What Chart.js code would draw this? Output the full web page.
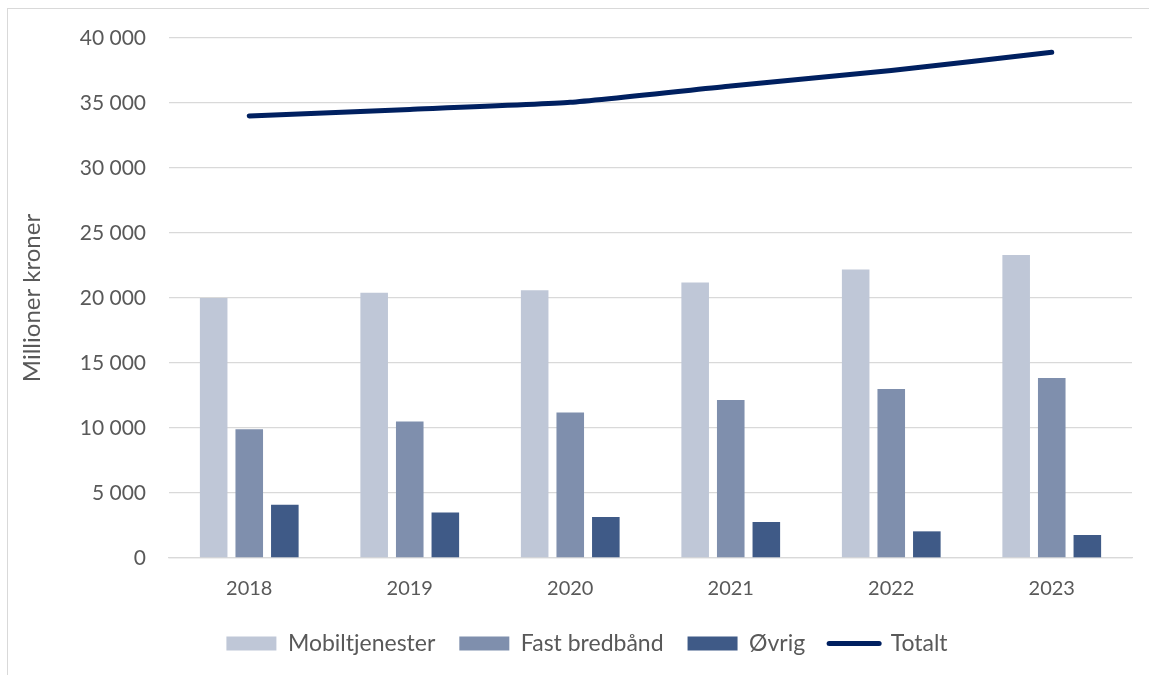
<!DOCTYPE html>
<html>
<head>
<meta charset="utf-8">
<script src="https://cdn.jsdelivr.net/npm/chart.js@4/dist/chart.umd.min.js"></script>
<style>
  html, body { margin: 0; padding: 0; background: #fff; overflow: hidden; }
  #wrap { position: relative; width: 1149px; height: 675px; }
  #frame { position: absolute; left: 7px; top: 8px; width: 1200px; height: 700px; border: 1px solid #d9d9d9; box-sizing: border-box; pointer-events: none; }
  canvas { position: absolute; left: 0; top: 0; }
</style>
</head>
<body>
<div id="wrap">
  <canvas id="chart" width="1149" height="675"></canvas>
  <div id="frame"></div>
</div>
<script>
// omsetning per år, millioner kroner
var years = ['2018', '2019', '2020', '2021', '2022', '2023'];
var mobil = [20000, 20400, 20600, 21200, 22200, 23300];
var bredband = [9900, 10500, 11200, 12150, 13000, 13850];
var ovrig = [4100, 3500, 3150, 2770, 2050, 1770];
var totalt = [34000, 34500, 35050, 36300, 37500, 38900];
var yTicks = [0, 5000, 10000, 15000, 20000, 25000, 30000, 35000, 40000];

var grey = '#595959';
var colors = { mobil: '#bfc7d7', bredband: '#7f8fad', ovrig: '#3f5a87', totalt: '#002060' };

function fmt(v) {
  return String(v).replace(/\B(?=(\d{3})+(?!\d))/g, ' ');
}

// legenden sentreres under plottet, ikke under hele lerretet
var legendShift = {
  id: 'legendShift',
  afterLayout: function (chart) {
    chart.legend.left += 42;
  }
};

Chart.defaults.font.family = 'Lato, "Open Sans", sans-serif';
Chart.defaults.color = grey;

new Chart(document.getElementById('chart'), {
  type: 'bar',
  data: {
    labels: years,
    datasets: [
      { label: 'Mobiltjenester', data: mobil, backgroundColor: colors.mobil, order: 2 },
      { label: 'Fast bredbånd', data: bredband, backgroundColor: colors.bredband, order: 2 },
      { label: 'Øvrig', data: ovrig, backgroundColor: colors.ovrig, order: 2 },
      {
        label: 'Totalt', type: 'line', data: totalt, order: 0,
        borderColor: colors.totalt, backgroundColor: colors.totalt,
        borderWidth: 5, borderCapStyle: 'round', borderJoinStyle: 'round',
        pointRadius: 0, tension: 0.15, fill: false
      }
    ]
  },
  plugins: [legendShift],
  options: {
    responsive: false,
    animation: false,
    layout: { padding: { top: 38, right: 17, left: 0, bottom: 10 } },
    datasets: { bar: { categoryPercentage: 0.665, barPercentage: 0.775 } },
    scales: {
      x: {
        grid: { display: false, drawTicks: false },
        border: { display: true, color: '#d9d9d9', width: 1.3 },
        ticks: { padding: 19, font: { size: 20 }, color: grey },
        afterFit: function (s) { s.height = 50; }
      },
      y: {
        min: 0, max: 40000,
        afterBuildTicks: function (s) { s.ticks = yTicks.map(function (v) { return { value: v }; }); },
        grid: { color: '#d9d9d9', lineWidth: 1.3, drawTicks: false },
        border: { display: false },
        ticks: { padding: 23, font: { size: 21 }, color: grey, callback: function (v) { return fmt(v); } },
        title: { display: true, text: 'Millioner kroner', font: { size: 24 }, color: grey, padding: { top: 18, bottom: 0 } },
        afterFit: function (s) { s.width = 169; }
      }
    },
    plugins: {
      tooltip: { enabled: false },
      legend: {
        position: 'bottom',
        labels: {
          usePointStyle: true,
          pointStyleWidth: 50,
          boxWidth: 50,
          boxHeight: 14,
          padding: 24,
          font: { size: 23 },
          color: grey,
          generateLabels: function (chart) {
            return chart.data.datasets.map(function (ds, i) {
              var isLine = ds.type === 'line';
              return {
                text: ds.label,
                datasetIndex: i,
                fillStyle: ds.backgroundColor,
                strokeStyle: isLine ? ds.borderColor : ds.backgroundColor,
                lineWidth: isLine ? 5 : 0,
                lineCap: 'round',
                pointStyle: isLine ? 'line' : 'rect',
                fontColor: grey,
                hidden: false
              };
            });
          }
        }
      }
    }
  }
});
</script>
</body>
</html>
